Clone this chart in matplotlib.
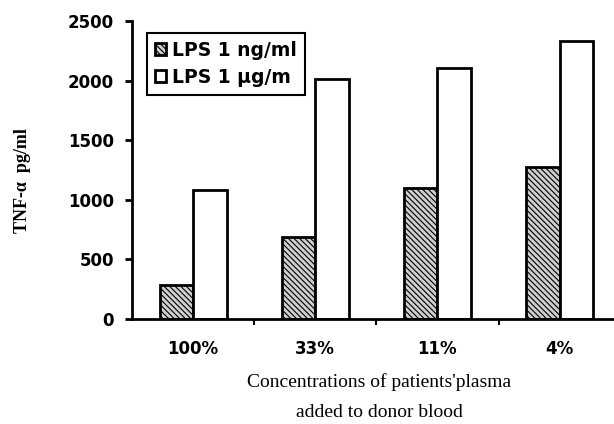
import numpy as np
import matplotlib.pyplot as plt
from matplotlib.ticker import FixedLocator

categories = ['100%', '33%', '11%', '4%']
lps_ng = [285, 688, 1099, 1275]
lps_ug = [1082, 2013, 2105, 2332]

plt.rcParams['hatch.linewidth'] = 0.8
fig = plt.figure(figsize=(6.14, 4.24), dpi=100)
ax = fig.add_axes([0.215, 0.248, 0.79, 0.702])

x = np.arange(len(categories))
w = 0.275
ax.bar(x - w / 2, lps_ng, w, facecolor='#cfcfcf', edgecolor='black', hatch='\\\\\\\\\\\\',
       linewidth=2, label='LPS 1 ng/ml')
ax.bar(x + w / 2, lps_ug, w, facecolor='white', edgecolor='black',
       linewidth=2, label='LPS 1 µg/m')

ax.set_xlim(-0.5, 3.47)
ax.set_ylim(0, 2500)
ax.set_yticks([0, 500, 1000, 1500, 2000, 2500])
ax.set_xticks(x)
ax.set_xticklabels(categories, fontsize=12, fontweight='bold', family='DejaVu Sans')
ax.xaxis.set_minor_locator(FixedLocator([0.5, 1.5, 2.5]))
ax.tick_params(axis='x', which='major', length=0, pad=15)
ax.tick_params(axis='x', which='minor', length=4, width=1.5, direction='out')
ax.tick_params(axis='y', length=5, width=2, direction='out', pad=8)
for t in ax.get_yticklabels():
    t.set_fontweight('bold')
    t.set_fontsize(12)
    t.set_family('DejaVu Sans')

for s in ['top', 'right']:
    ax.spines[s].set_visible(False)
ax.spines['left'].set_linewidth(2)
ax.spines['bottom'].set_linewidth(2)

ax.set_ylabel('TNF-α  pg/ml', fontsize=13, fontweight='bold', family='Liberation Serif')
ax.yaxis.set_label_coords(-0.209, 0.463)
ax.set_xlabel("Concentrations of patients'plasma\nadded to donor blood", fontsize=14,
              family='Liberation Serif', labelpad=11, x=0.51, linespacing=2.0)

leg = ax.legend(loc='upper left', bbox_to_anchor=(0.031, 0.96), fancybox=False, framealpha=1,
                edgecolor='black', handlelength=0.6, handleheight=0.6, handletextpad=0.35,
                borderpad=0.4, labelspacing=0.45, borderaxespad=0,
                prop={'family': 'DejaVu Sans', 'weight': 'bold', 'size': 13.5})
leg.get_frame().set_linewidth(1.5)

fig.savefig('out.png', dpi=100)
